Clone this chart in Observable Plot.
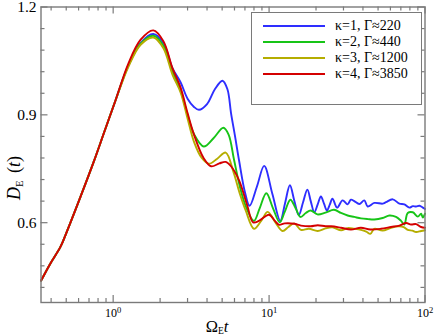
<!DOCTYPE html>
<html><head><meta charset="utf-8">
<script src="https://cdn.jsdelivr.net/npm/d3@7"></script>
<script src="https://cdn.jsdelivr.net/npm/@observablehq/plot@0.6"></script>
<style>
body{margin:0;background:#fff;}
#wrap{position:relative;width:436px;height:336px;font-family:"Liberation Serif","Times New Roman",serif;overflow:hidden;}
#wrap svg text{font-family:"Liberation Serif","Times New Roman",serif !important;}
#legend{position:absolute;left:251px;top:12px;width:171px;height:93px;border:1.3px solid #7a7a7a;background:#fff;box-sizing:border-box;}
.row{position:absolute;left:0;height:16px;width:100%;}
.sw{position:absolute;left:11px;top:7px;width:62px;height:2px;}
.lb{position:absolute;left:83px;top:0;line-height:16px;font-size:14px;color:#000;white-space:nowrap;font-family:"Liberation Serif","Times New Roman",serif;}
</style></head><body><div id="wrap"></div><script>
// ---- data ----
const riseT = [0.345, 0.395, 0.458, 0.494, 0.616, 0.75, 0.87, 1.035];
const riseD = [0.439, 0.486, 0.532, 0.565, 0.671, 0.769, 0.848, 0.940];

const t1 = [1.25,1.5,1.81,2.1,2.4,2.71,3.0,3.3,3.55,4.0,4.5,5.02,5.4,5.7,6.05,6.42,7.0,7.5,8.35,9.3,10.5,11.8,12.67,13.6,14.5,15.5,16.5,17.6,18.5,19.5,20.5,21.5,22.5,23.5,24.5,25.5,27.3,29.6,31.9,33.5,35.2,37.9,40.8,42.9,47.3,53.5,56.2,62.1,68.5,73.7,79.4,83.5,87.7,92.1,96.8,100];
const d1 = [1.037,1.10,1.125,1.10,1.03,0.99,0.945,0.922,0.914,0.93,0.972,0.995,0.972,0.905,0.84,0.773,0.685,0.647,0.70,0.758,0.68,0.605,0.655,0.704,0.662,0.621,0.656,0.692,0.66,0.629,0.651,0.673,0.653,0.634,0.65,0.667,0.642,0.662,0.651,0.664,0.66,0.652,0.662,0.645,0.655,0.653,0.657,0.665,0.653,0.651,0.642,0.646,0.645,0.647,0.642,0.638];

const t2 = [1.25,1.5,1.81,2.1,2.4,2.71,3.0,3.3,3.81,4.4,5.09,5.5,5.96,6.5,7.1,8.0,8.7,9.6,10.6,11.7,12.6,13.7,14.8,15.9,17.2,18.5,20.4,23,26.1,28.9,31.9,35.2,38.8,43,47.3,53.5,59.1,65.2,70.2,73.7,77.5,83.5,89.9,94.4,96.8,100];
const d2 = [1.037,1.098,1.12,1.092,1.02,0.968,0.9,0.846,0.812,0.835,0.864,0.845,0.775,0.70,0.645,0.605,0.64,0.682,0.64,0.601,0.63,0.664,0.64,0.616,0.627,0.634,0.623,0.628,0.636,0.627,0.62,0.616,0.612,0.61,0.609,0.613,0.620,0.616,0.605,0.595,0.627,0.629,0.617,0.625,0.614,0.625];

const t3 = [1.25,1.5,1.81,2.1,2.4,2.71,3.0,3.3,3.7,4.12,4.65,5.27,5.9,6.5,7.08,8.0,8.9,9.8,11.0,12.2,13.3,14.5,16.0,18.0,20.5,23.0,25.5,29.0,31.9,35.2,38.8,42,44.6,47.3,53.5,60.6,68,73,77.5,83,87.7,94.4,100];
const d3v = [1.033,1.095,1.115,1.085,1.012,0.962,0.89,0.825,0.78,0.764,0.778,0.795,0.742,0.68,0.634,0.583,0.605,0.630,0.60,0.577,0.588,0.598,0.58,0.583,0.577,0.584,0.587,0.579,0.585,0.583,0.58,0.575,0.569,0.583,0.578,0.586,0.59,0.588,0.58,0.578,0.574,0.577,0.579];

const t4 = [1.25,1.5,1.81,2.1,2.4,2.71,3.0,3.3,3.8,4.25,4.8,5.27,5.7,6.42,7.25,7.9,8.6,10.0,10.9,11.6,12.6,14.5,16,18.5,20.5,23,25,28.9,33.5,38.8,44.6,52.2,60.6,68.5,75.6,81.4,87.7,94.4,100];
const d4 = [1.042,1.109,1.135,1.105,1.03,0.975,0.905,0.845,0.78,0.757,0.765,0.769,0.757,0.718,0.647,0.601,0.605,0.622,0.605,0.594,0.598,0.597,0.592,0.590,0.593,0.590,0.590,0.586,0.581,0.586,0.581,0.583,0.588,0.592,0.599,0.595,0.596,0.588,0.586];

const seriesNames = ["κ=1, Γ≈220", "κ=2, Γ≈440", "κ=3, Γ≈1200", "κ=4, Γ≈3850"];
const seriesColors = ["#2e2eff", "#17c417", "#b5ad00", "#d40000"];
const xMajor = [1, 10, 100];
const xMinor = [0.4,0.5,0.6,0.7,0.8,0.9,2,3,4,5,6,7,8,9,20,30,40,50,60,70,80,90];
const yMajor = [0.6, 0.9, 1.2];
const yMinor = [0.42,0.48,0.54,0.66,0.72,0.78,0.84,0.96,1.02,1.08,1.14];

// ---- build table ----
const tsAll = [t1, t2, t3, t4];
const dsAll = [d1, d2, d3v, d4];
const rows = [];
tsAll.forEach((ts, k) => {
  riseT.forEach((t, i) => rows.push({s: seriesNames[k], t, d: riseD[i]}));
  ts.forEach((t, i) => rows.push({s: seriesNames[k], t, d: dsAll[k][i]}));
});

const W = 436, H = 336, mL = 40.5, mR = 11.5, mT = 6.5, mB = 34;
const FW = W - mL - mR, FH = H - mT - mB;
const axc = "#7a7a7a";

const plot = Plot.plot({
  width: W, height: H,
  marginLeft: mL, marginRight: mR, marginTop: mT, marginBottom: mB,
  style: {fontFamily: "'Liberation Serif', 'Times New Roman', serif", fontSize: "15.5px", background: "white", color: "black"},
  x: {type: "log", domain: [0.3445, 100]},
  y: {domain: [0.378, 1.2]},
  color: {domain: seriesNames, range: seriesColors},
  marks: [
    Plot.line(rows, {x: "t", y: "d", z: "s", stroke: "s", strokeWidth: 1.9, curve: "catmull-rom"}),
    Plot.tickY(yMajor, {y: d => d, insetRight: FW - 7, stroke: axc, strokeWidth: 1.2}),
    Plot.tickY(yMajor, {y: d => d, insetLeft: FW - 7, stroke: axc, strokeWidth: 1.2}),
    Plot.tickY(yMinor, {y: d => d, insetRight: FW - 4, stroke: axc, strokeWidth: 1.2}),
    Plot.tickY(yMinor, {y: d => d, insetLeft: FW - 4, stroke: axc, strokeWidth: 1.2}),
    Plot.tickX(xMajor, {x: d => d, insetTop: FH - 7, stroke: axc, strokeWidth: 1.2}),
    Plot.tickX(xMajor, {x: d => d, insetBottom: FH - 7, stroke: axc, strokeWidth: 1.2}),
    Plot.tickX(xMinor, {x: d => d, insetTop: FH - 4, stroke: axc, strokeWidth: 1.2}),
    Plot.tickX(xMinor, {x: d => d, insetBottom: FH - 4, stroke: axc, strokeWidth: 1.2}),
    Plot.axisY({ticks: yMajor, tickSize: 0, tickPadding: 4.5, tickFormat: d3.format(".1f"), label: null, fontSize: 15.5}),
    Plot.axisX({ticks: xMajor, tickSize: 0, tickPadding: 6, tickFormat: d => String(Math.round(Math.log10(d))), label: null, fontSize: 12}),
    Plot.frame({stroke: axc, strokeWidth: 1.4})
  ]
});

const wrap = document.getElementById("wrap");
wrap.appendChild(plot);
const svg = d3.select(plot);

// superscript exponents on x tick labels
svg.selectAll('g[aria-label="x-axis tick label"] text').each(function() {
  const e = this.textContent;
  const t = d3.select(this);
  t.text(null);
  t.append("tspan").text("10");
  t.append("tspan").attr("dy", "-0.45em").attr("font-size", "8.5px").text(e);
});

// axis titles with subscripts
const xl = svg.append("text").attr("x", 217).attr("y", 331.5).attr("font-size", 16.5).attr("fill", "black");
xl.append("tspan").text("Ω");
xl.append("tspan").attr("dy", 2.5).attr("font-size", 9.5).text("E");
xl.append("tspan").attr("dy", -2.5).attr("font-style", "italic").text("t");

const yl = svg.append("text").attr("transform", "translate(20,178) rotate(-90)").attr("font-size", 18).attr("fill", "black");
yl.append("tspan").attr("font-style", "italic").text("D");
yl.append("tspan").attr("dy", 3).attr("font-size", 10.5).text("E");
yl.append("tspan").attr("dy", -3).attr("dx", 3).text(" (");
yl.append("tspan").attr("font-style", "italic").text("t");
yl.append("tspan").text(")");

// legend
const lg = document.createElement("div");
lg.id = "legend";
seriesNames.forEach((n, i) => {
  const r = document.createElement("div");
  r.className = "row";
  r.style.top = (4.5 + i * 16.2) + "px";
  const sw = document.createElement("div");
  sw.className = "sw"; sw.style.background = seriesColors[i];
  const lb = document.createElement("div");
  lb.className = "lb"; lb.textContent = n;
  r.appendChild(sw); r.appendChild(lb); lg.appendChild(r);
});
wrap.appendChild(lg);
</script></body></html>
